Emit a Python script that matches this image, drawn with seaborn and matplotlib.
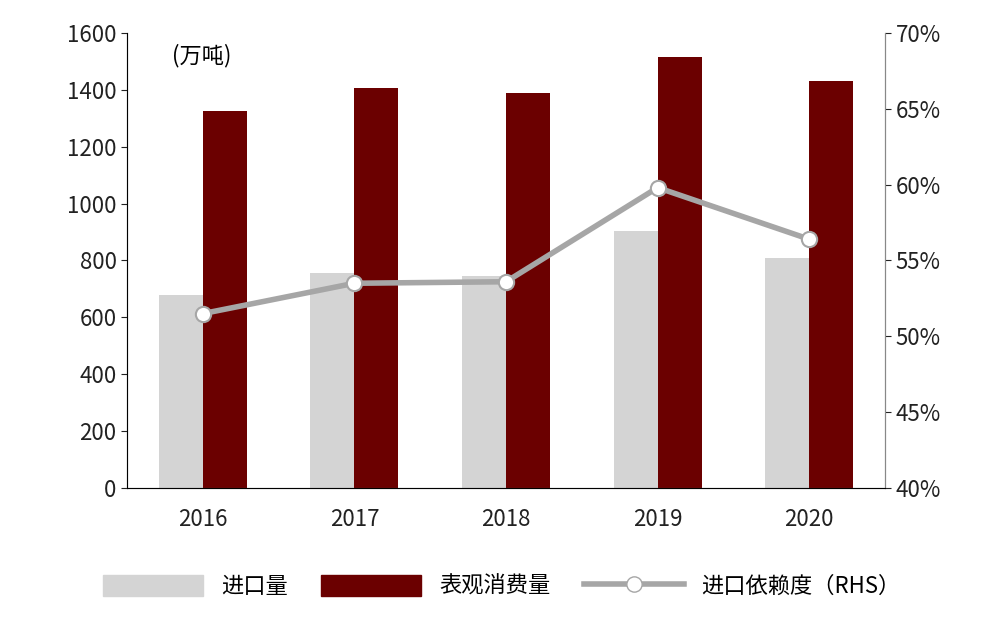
import pandas as pd
import matplotlib.pyplot as plt
import seaborn as sns
from matplotlib import font_manager
from matplotlib.lines import Line2D
from matplotlib.patches import Patch

# pick whatever CJK family name is registered
cjk = [f.name for f in font_manager.fontManager.ttflist if 'CJK' in f.name]
cjk_name = next((n for n in cjk if 'SC' in n), cjk[0] if cjk else 'DejaVu Sans')
plt.rcParams['font.family'] = [cjk_name, 'DejaVu Sans']

years = ['2016', '2017', '2018', '2019', '2020']
imports = [680, 755, 745, 905, 810]
consumption = [1325, 1405, 1390, 1515, 1430]
dependence = [51.5, 53.5, 53.6, 59.8, 56.4]

gray = '#d4d4d4'
red = '#6b0000'
line_gray = '#a6a6a6'

df = pd.DataFrame({'year': years * 2,
                   'value': imports + consumption,
                   'series': ['进口量'] * 5 + ['表观消费量'] * 5})

fig = plt.figure(figsize=(10.04, 6.18), dpi=100)
ax = fig.add_axes([0.1265, 0.21, 0.755, 0.737])
sns.barplot(data=df, x='year', y='value', hue='series', palette=[gray, red],
            width=0.58, ax=ax, legend=False, saturation=1)
ax.set_ylim(0, 1600)
ax.set_yticks(range(0, 1601, 200))
ax.set_xlim(-0.5, 4.5)
ax.set_xlabel('')
ax.set_ylabel('')
ax.tick_params(labelsize=16, colors='#222222', length=4)
ax.tick_params(axis='x', length=0, pad=14)
ax.spines['top'].set_visible(False)
for s in ['left', 'right', 'bottom']:
    ax.spines[s].set_color('#888888')
ax.text(0.06, 0.975, '(万吨)', transform=ax.transAxes, fontsize=16, va='top')

ax2 = ax.twinx()
ax2.plot(range(5), dependence, color=line_gray, lw=4, marker='o', markersize=11,
         markerfacecolor='white', markeredgecolor=line_gray, markeredgewidth=1.5)
ax2.set_ylim(40, 70)
ax2.set_yticks(range(40, 71, 5))
ax2.set_yticklabels([f'{v}%' for v in range(40, 71, 5)])
ax2.tick_params(labelsize=16, colors='#222222', length=4)
ax2.spines['top'].set_visible(False)
ax2.spines['right'].set_color('#888888')

handles = [Patch(color=gray), Patch(color=red),
           Line2D([], [], color=line_gray, lw=4, marker='o', markersize=11,
                  markerfacecolor='white', markeredgecolor=line_gray)]
fig.legend(handles, ['进口量', '表观消费量', '进口依赖度（RHS）'], loc='lower center',
           bbox_to_anchor=(0.5, 0.0), ncol=3, frameon=False, fontsize=16,
           handlelength=4.5, handleheight=1.1, columnspacing=1.5)

fig.savefig('out.png', dpi=100)
